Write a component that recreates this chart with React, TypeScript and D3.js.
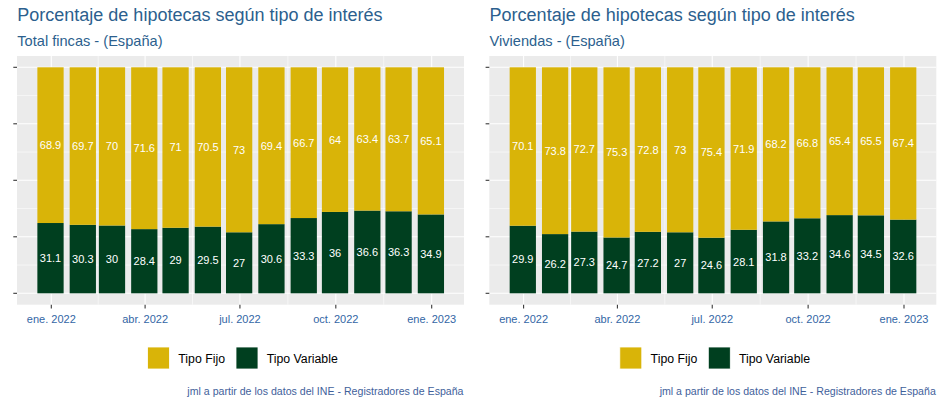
import React from "react";
import * as d3 from "d3";

const months: string[] = [
  "2022-01-01", "2022-02-01", "2022-03-01", "2022-04-01", "2022-05-01", "2022-06-01",
  "2022-07-01", "2022-08-01", "2022-09-01", "2022-10-01", "2022-11-01", "2022-12-01", "2023-01-01",
];
const totalFijo = [68.9, 69.7, 70, 71.6, 71, 70.5, 73, 69.4, 66.7, 64, 63.4, 63.7, 65.1];
const totalVariable = [31.1, 30.3, 30, 28.4, 29, 29.5, 27, 30.6, 33.3, 36, 36.6, 36.3, 34.9];
const vivFijo = [70.1, 73.8, 72.7, 75.3, 72.8, 73, 75.4, 71.9, 68.2, 66.8, 65.4, 65.5, 67.4];
const vivVariable = [29.9, 26.2, 27.3, 24.7, 27.2, 27, 24.6, 28.1, 31.8, 33.2, 34.6, 34.5, 32.6];
const xTickDates = ["2022-01-01", "2022-04-01", "2022-07-01", "2022-10-01", "2023-01-01"];
const xTickLabels = ["ene. 2022", "abr. 2022", "jul. 2022", "oct. 2022", "ene. 2023"];
const yTicks = [0, 25, 50, 75, 100];
const yMinor = [12.5, 37.5, 62.5, 87.5];
const seriesNames = ["Tipo Fijo", "Tipo Variable"];
const title = "Porcentaje de hipotecas según tipo de interés";
const subtitles = ["Total fincas - (España)", "Viviendas - (España)"];
const caption = "jml a partir de los datos del INE - Registradores de España";

const COL_FIJO = "#D9B408";
const COL_VAR = "#003F1F";
const FONT = "'Liberation Sans', Arial, sans-serif";
const parse = d3.utcParse("%Y-%m-%d");

function Panel({ ox, subtitle, fijo, variable }: { ox: number; subtitle: string; fijo: number[]; variable: number[] }) {
  const pL = 17, pR = 464, pT = 56, pB = 304.7;
  const x = d3.scaleUtc().domain([parse("2022-01-01")!, parse("2023-01-01")!]).range([51.3, 431.7]);
  const y = d3.scaleLinear().domain([0, 100]).range([293.3, 67.3]);
  const pxPerDay = (x(parse("2023-01-01")!) - x(parse("2022-01-01")!)) / 365;
  const bw = 25.2 * pxPerDay;
  const majorX = xTickDates.map((d) => x(parse(d)!));
  const minorX = majorX.slice(1).map((v, i) => (v + majorX[i]) / 2);
  const stack = d3.stack<number>().keys(["var", "fijo"]).value((i, k) => (k === "var" ? variable[i] : fijo[i]));
  const series = stack(months.map((_, i) => i));
  const colors = [COL_VAR, COL_FIJO];
  const values = [variable, fijo];
  return (
    <g transform={`translate(${ox},0)`} fontFamily={FONT}>
      <text x={17.3} y={21} fontSize={18} fill="#2C5F8E">{title}</text>
      <text x={17.3} y={46} fontSize={14.6} fill="#2C5F8E">{subtitle}</text>
      <rect x={pL} y={pT} width={pR - pL} height={pB - pT} fill="#EBEBEB" />
      {yMinor.map((v) => (
        <line key={"ym" + v} x1={pL} x2={pR} y1={y(v)} y2={y(v)} stroke="#fff" strokeWidth={0.55} />
      ))}
      {minorX.map((v, i) => (
        <line key={"xm" + i} x1={v} x2={v} y1={pT} y2={pB} stroke="#fff" strokeWidth={0.55} />
      ))}
      {yTicks.map((v) => (
        <line key={"yM" + v} x1={pL} x2={pR} y1={y(v)} y2={y(v)} stroke="#fff" strokeWidth={1.07} />
      ))}
      {majorX.map((v, i) => (
        <line key={"xM" + i} x1={v} x2={v} y1={pT} y2={pB} stroke="#fff" strokeWidth={1.07} />
      ))}
      {series.map((s, si) =>
        s.map((d, i) => (
          <rect
            key={si + "-" + i}
            x={x(parse(months[i])!) - 0.8 - bw / 2}
            y={y(d[1])}
            width={bw}
            height={y(d[0]) - y(d[1])}
            fill={colors[si]}
          />
        ))
      )}
      {series.map((s, si) =>
        s.map((d, i) => (
          <text
            key={"l" + si + "-" + i}
            x={x(parse(months[i])!) - 0.8}
            y={(y(d[0]) + y(d[1])) / 2}
            dy="0.36em"
            textAnchor="middle"
            fontSize={11}
            fill="#ffffff"
          >
            {String(values[si][i])}
          </text>
        ))
      )}
      {yTicks.map((v) => (
        <line key={"yt" + v} x1={pL - 3.7} x2={pL} y1={y(v)} y2={y(v)} stroke="#333" strokeWidth={1.07} />
      ))}
      {majorX.map((v, i) => (
        <g key={"xt" + i}>
          <line x1={v} x2={v} y1={pB} y2={pB + 3.7} stroke="#333" strokeWidth={1.07} />
          <text x={v} y={322.5} textAnchor="middle" fontSize={11} fill="#3366A5">{xTickLabels[i]}</text>
        </g>
      ))}
      <rect x={147.5} y={347} width={22} height={22} fill={COL_FIJO} stroke="#fff" strokeWidth={0.8} />
      <text x={178.3} y={358.5} dy="0.36em" fontSize={12.3} fill="#000">{seriesNames[0]}</text>
      <rect x={236} y={347} width={22} height={22} fill={COL_VAR} stroke="#fff" strokeWidth={0.8} />
      <text x={266.7} y={358.5} dy="0.36em" fontSize={12.3} fill="#000">{seriesNames[1]}</text>
      <text x={463.5} y={395} textAnchor="end" fontSize={10.6} fill="#3F619B">{caption}</text>
    </g>
  );
}

export default function App() {
  return (
    <svg width={944} height={404} style={{ position: "absolute", left: 0, top: 0, background: "#fff" }}>
      <rect x={0} y={0} width={944} height={404} fill="#fff" />
      <Panel ox={0} subtitle={subtitles[0]} fijo={totalFijo} variable={totalVariable} />
      <Panel ox={472.3} subtitle={subtitles[1]} fijo={vivFijo} variable={vivVariable} />
    </svg>
  );
}
